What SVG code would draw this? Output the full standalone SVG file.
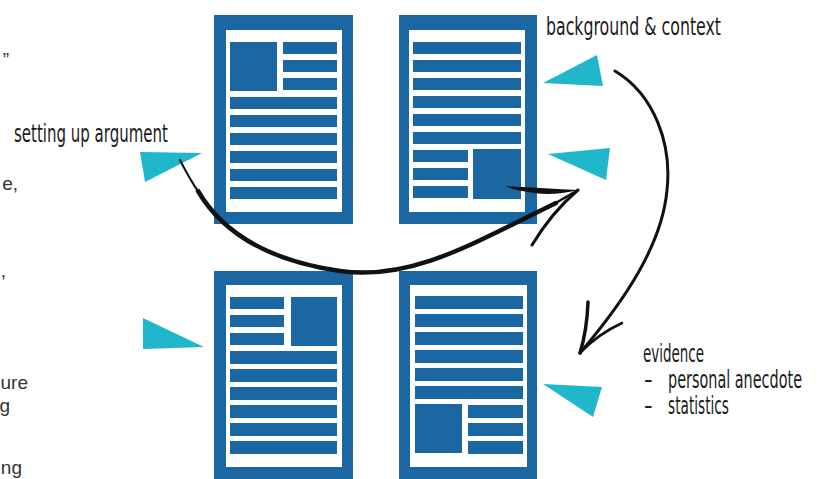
<svg xmlns="http://www.w3.org/2000/svg" width="822" height="479" viewBox="0 0 822 479">
  <style>
    .frame { fill: #1a67a2; }
    .page { fill: #ffffff; }
    .bar { fill: #1a67a2; }
    .tab { fill: #20b7cb; }
    .hand { font-family: "DejaVu Sans", "Liberation Sans", sans-serif; font-size: 24px; fill: #1c1c1c; }
    .body { font-family: "Liberation Sans", "DejaVu Sans", sans-serif; font-size: 19px; fill: #333333; }
    .ink { fill: none; stroke: #111111; stroke-linecap: round; stroke-linejoin: round; }
  </style>
  <rect width="822" height="479" fill="#ffffff"/>

  <!-- clipped paragraph text at the left edge -->
  <g id="left-text">
    <text class="body" x="9" y="66" text-anchor="end">”</text>
    <text class="body" x="18" y="190" text-anchor="end">e,</text>
    <text class="body" x="6" y="277" text-anchor="end">,</text>
    <text class="body" x="28" y="389" text-anchor="end">ure</text>
    <text class="body" x="10" y="412" text-anchor="end">g</text>
    <text class="body" x="22" y="474" text-anchor="end">ng</text>
  </g>

  <!-- page: image top-left -->
  <g id="page-top-left">
    <rect class="frame" x="214" y="15" width="139" height="209"/>
    <rect class="page" x="226" y="30" width="116" height="182"/>
    <rect class="bar" x="230" y="42" width="47" height="49"/>
    <rect class="bar" x="283" y="42" width="54" height="12"/>
    <rect class="bar" x="283" y="60" width="54" height="12"/>
    <rect class="bar" x="283" y="78" width="54" height="12"/>
    <rect class="bar" x="230" y="97" width="107" height="12"/>
    <rect class="bar" x="230" y="115" width="107" height="12"/>
    <rect class="bar" x="230" y="133" width="107" height="12"/>
    <rect class="bar" x="230" y="151" width="107" height="12"/>
    <rect class="bar" x="230" y="169" width="107" height="12"/>
    <rect class="bar" x="230" y="187" width="107" height="12"/>
  </g>

  <!-- page: image bottom-right -->
  <g id="page-top-right">
    <rect class="frame" x="399" y="15" width="138" height="209"/>
    <rect class="page" x="409" y="30" width="116" height="182"/>
    <rect class="bar" x="413" y="42" width="108" height="12"/>
    <rect class="bar" x="413" y="60" width="108" height="12"/>
    <rect class="bar" x="413" y="78" width="108" height="12"/>
    <rect class="bar" x="413" y="96" width="108" height="12"/>
    <rect class="bar" x="413" y="114" width="108" height="12"/>
    <rect class="bar" x="413" y="132" width="108" height="12"/>
    <rect class="bar" x="413" y="150" width="55" height="12"/>
    <rect class="bar" x="413" y="168" width="55" height="12"/>
    <rect class="bar" x="413" y="186" width="55" height="12"/>
    <rect class="bar" x="473" y="149" width="48" height="50"/>
  </g>

  <!-- page: image top-right -->
  <g id="page-bottom-left">
    <rect class="frame" x="214" y="271" width="139" height="220"/>
    <rect class="page" x="226" y="285" width="116" height="182"/>
    <rect class="bar" x="230" y="297" width="54" height="12"/>
    <rect class="bar" x="230" y="315" width="54" height="12"/>
    <rect class="bar" x="230" y="333" width="54" height="12"/>
    <rect class="bar" x="291" y="297" width="46" height="49"/>
    <rect class="bar" x="230" y="351" width="107" height="13"/>
    <rect class="bar" x="230" y="369" width="107" height="13"/>
    <rect class="bar" x="230" y="387" width="107" height="13"/>
    <rect class="bar" x="230" y="405" width="107" height="13"/>
    <rect class="bar" x="230" y="423" width="107" height="13"/>
    <rect class="bar" x="230" y="441" width="107" height="13"/>
  </g>

  <!-- page: image bottom-left -->
  <g id="page-bottom-right">
    <rect class="frame" x="399" y="271" width="138" height="220"/>
    <rect class="page" x="410" y="285" width="117" height="182"/>
    <rect class="bar" x="415" y="296" width="108" height="13"/>
    <rect class="bar" x="415" y="314" width="108" height="13"/>
    <rect class="bar" x="415" y="332" width="108" height="13"/>
    <rect class="bar" x="415" y="350" width="108" height="13"/>
    <rect class="bar" x="415" y="368" width="108" height="13"/>
    <rect class="bar" x="415" y="386" width="108" height="13"/>
    <rect class="bar" x="415" y="404" width="47" height="49"/>
    <rect class="bar" x="468" y="405" width="55" height="13"/>
    <rect class="bar" x="468" y="423" width="55" height="13"/>
    <rect class="bar" x="468" y="441" width="55" height="13"/>
  </g>

  <!-- pointer tabs -->
  <g id="tabs">
    <polygon class="tab" points="140,152 202,153 145,182"/>
    <polygon class="tab" points="143,318 204,347 143,349"/>
    <polygon class="tab" points="597,55 603,86 543,83"/>
    <polygon class="tab" points="548,154 610,148 606,180"/>
    <polygon class="tab" points="543,384 602,387 593,417"/>
  </g>

  <!-- hand-drawn arrows -->
  <g id="connectors">
    <path class="ink" stroke-width="2" d="M180,160 C186,172 192,183 200,194"/>
    <path class="ink" stroke-width="4.5" d="M198,191 C215,220 250,258 340,271 C410,281 470,245 556,203"/>
    <path class="ink" stroke-width="2.5" d="M554,204 L578,190"/>
    <path fill="#111111" d="M505,186 Q545,188 578,190 Q550,197 528,192 Q513,190 505,186 Z"/>
    <path class="ink" stroke-width="3" d="M532,245 Q552,212 578,190"/>

    <path class="ink" stroke-width="3" d="M615,71 C655,95 672,145 667,190 C662,245 625,300 580,353"/>
    <path class="ink" stroke-width="3.5" d="M588,302 Q587,330 580,353"/>
    <path class="ink" stroke-width="2.5" d="M622,323 Q598,334 580,353"/>
  </g>

  <!-- labels -->
  <g id="labels">
    <text class="hand" x="14" y="142" textLength="154" lengthAdjust="spacingAndGlyphs">setting up argument</text>
    <text class="hand" x="546" y="35" textLength="175" lengthAdjust="spacingAndGlyphs">background &amp; context</text>
    <text class="hand" x="643" y="362" textLength="61" lengthAdjust="spacingAndGlyphs">evidence</text>
    <text class="hand" x="644" y="388">-</text>
    <text class="hand" x="668" y="388" textLength="134" lengthAdjust="spacingAndGlyphs">personal anecdote</text>
    <text class="hand" x="644" y="414">-</text>
    <text class="hand" x="668" y="414" textLength="61" lengthAdjust="spacingAndGlyphs">statistics</text>
  </g>
</svg>
